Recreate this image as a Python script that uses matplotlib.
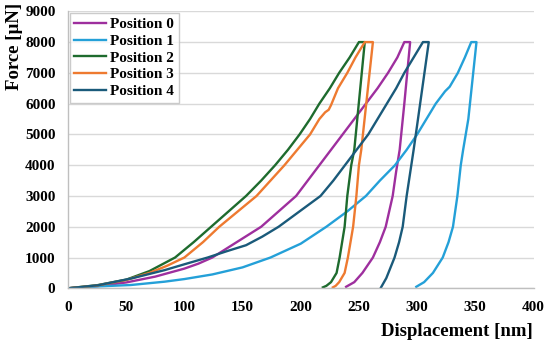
import matplotlib
matplotlib.use("Agg")
import matplotlib.pyplot as plt

# ---- data ----
labels = ["Position 0", "Position 1", "Position 2", "Position 3", "Position 4"]
colors = ["#9E2F9E", "#24A0D8", "#1E6B2E", "#EE7A30", "#1A5A7A"]

pos0_x = [0, 25, 50, 75, 100, 112, 124, 145, 166, 181, 196, 206, 216, 226, 236, 246, 256, 266, 275, 283, 289,
          294, 289, 285, 282, 279, 276, 273, 268, 262, 253, 246, 239]
pos0_y = [0, 70, 190, 380, 640, 800, 1000, 1500, 2000, 2500, 3000, 3500, 4000, 4500, 5000, 5500, 6000, 6500, 7000, 7500, 8000,
          8000, 6000, 4500, 3800, 3000, 2500, 2000, 1500, 1000, 500, 200, 50]

pos1_x = [0, 25, 54, 83, 100, 124, 150, 174, 200, 222, 240, 256, 268, 281, 291, 300, 308, 316, 322, 324, 328, 335, 341, 346.5,
          351, 344, 339.5, 337.5, 334.6, 330.8, 327, 322, 313.6, 306, 299.3]
pos1_y = [0, 60, 107, 215, 300, 450, 680, 1000, 1450, 2000, 2500, 3000, 3500, 4000, 4500, 5000, 5500, 6000, 6300, 6400, 6550, 7000, 7500, 8000,
          8000, 5500, 4490, 4000, 3000, 2000, 1500, 1000, 500, 200, 50]

pos2_x = [0, 25, 50, 70, 92, 108, 123, 138, 153, 166, 178, 189, 199, 208, 216, 225, 233, 242, 250,
          255, 246, 243.4, 240, 237.7, 233.4, 230.8, 226, 222, 219]
pos2_y = [0, 100, 280, 560, 1000, 1500, 2000, 2500, 3000, 3500, 4000, 4500, 5000, 5500, 6000, 6500, 7000, 7500, 8000,
          8000, 4500, 4000, 3000, 2000, 1000, 500, 200, 80, 30]

pos3_x = [0, 25, 50, 70, 85, 100, 116, 130, 146, 162, 174, 186, 197, 208, 216, 221, 224, 226, 232, 240, 247, 255,
          262, 252, 250, 247.8, 245, 240.5, 237.7, 233, 230, 227.6]
pos3_y = [0, 90, 270, 500, 730, 1000, 1500, 2000, 2500, 3000, 3500, 4000, 4500, 5000, 5500, 5720, 5800, 5950, 6500, 7000, 7500, 8000,
          8000, 4500, 4000, 3000, 2000, 1000, 500, 200, 80, 30]

pos4_x = [0, 26, 54.5, 83, 100, 120, 136, 153, 167, 181, 199, 217, 228, 238, 248, 258, 266, 274, 282, 289, 297, 305,
          310, 300, 297, 295, 291, 287.6, 284.5, 280.6, 273.5, 269]
pos4_y = [0, 100, 320, 590, 780, 1000, 1200, 1400, 1680, 2000, 2500, 3000, 3500, 4000, 4500, 5000, 5500, 6000, 6500, 7000, 7500, 8000,
          8000, 5300, 4500, 4000, 3000, 2000, 1500, 1000, 330, 30]

series_x = [pos0_x, pos1_x, pos2_x, pos3_x, pos4_x]
series_y = [pos0_y, pos1_y, pos2_y, pos3_y, pos4_y]

x_ticks = [0, 50, 100, 150, 200, 250, 300, 350, 400]
y_ticks = [0, 1000, 2000, 3000, 4000, 5000, 6000, 7000, 8000, 9000]

# ---- figure ----
plt.rcParams['font.family'] = ['Liberation Serif', 'DejaVu Serif']
plt.rcParams['font.weight'] = 'bold'

fig = plt.figure(figsize=(5.5, 3.49), dpi=100)
ax = fig.add_axes([68 / 550, 1 - 288.3 / 349, (533.5 - 68) / 550, (288.3 - 11.3) / 349])

for xs, ys, c, lab in zip(series_x, series_y, colors, labels):
    ax.plot(xs, ys, color=c, lw=1.7, label=lab, solid_joinstyle='round')

ax.set_xlim(0, 400)
ax.set_ylim(0, 9000)
ax.set_xticks(x_ticks)
ax.set_yticks(y_ticks)
ax.tick_params(length=0, labelsize=11, pad=9)
for t in ax.get_xticklabels() + ax.get_yticklabels():
    t.set_fontweight('bold')

ax.grid(axis='y', color='#D9D9D9', lw=1.0)
ax.set_axisbelow(True)
for s in ['top', 'right']:
    ax.spines[s].set_visible(False)
for s in ['left', 'bottom']:
    ax.spines[s].set_color('#BFBFBF')
    ax.spines[s].set_linewidth(1.0)

leg = ax.legend(loc='upper left', bbox_to_anchor=(0.0, 1.0), borderaxespad=0.1,
                prop={'size': 11, 'weight': 'bold'}, handlelength=2.1, handletextpad=0.25,
                labelspacing=0.2, borderpad=0.3, fancybox=False, frameon=True)
leg.get_frame().set_edgecolor('#BFBFBF')
leg.get_frame().set_linewidth(1.0)

fig.text(15 / 550, 1 - 46 / 349, "Force [µN]", rotation=90, ha='center', va='center',
         fontsize=13.5, fontweight='bold')
fig.text(533 / 550, 1 - 332 / 349, "Displacement [nm]", ha='right', va='center',
         fontsize=13.5, fontweight='bold')

fig.savefig("out.png", dpi=100)
